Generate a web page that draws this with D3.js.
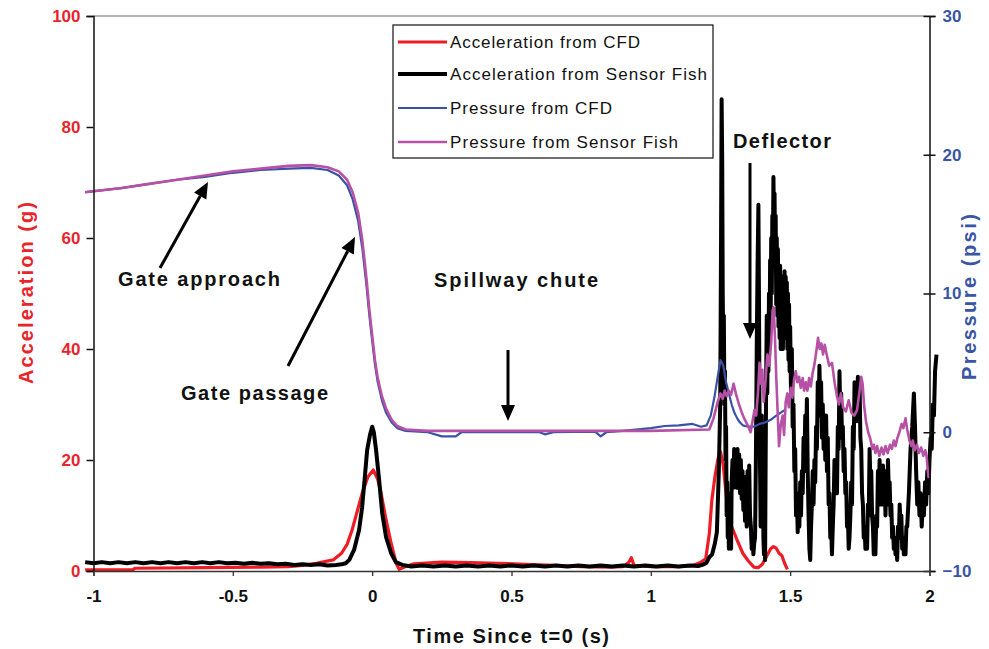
<!DOCTYPE html>
<html><head><meta charset="utf-8">
<script src="https://cdn.jsdelivr.net/npm/d3@7"></script>
<style>
body{margin:0;background:#fff}
svg{display:block}
text{font-family:Arial,"Liberation Sans",Helvetica,sans-serif}
</style>
</head><body>
<svg id="chart" width="989" height="649"></svg>
<script>
// ---------------- DATA ----------------
const xTicks = [-1, -0.5, 0, 0.5, 1, 1.5, 2];
const xTickLabels = ["-1", "-0.5", "0", "0.5", "1", "1.5", "2"];
const accTicks = [0, 20, 40, 60, 80, 100];
const presTicks = [-10, 0, 10, 20, 30];
const seriesNames = ["Acceleration from CFD", "Acceleration from Sensor Fish", "Pressure from CFD", "Pressure from Sensor Fish"];
const xTitle = "Time Since t=0 (s)";
const accTitle = "Acceleration (g)";
const presTitle = "Pressure (psi)";
const annotations = ["Gate approach", "Gate passage", "Spillway chute", "Deflector"];

// [time (s), acceleration (g)]
const accCFD = [[-1.03,0.2],[-0.86,0.2],[-0.85,0.5],[-0.6,0.6],[-0.4,0.7],[-0.3,0.8],[-0.25,1.0],[-0.2,1.4],[-0.14,2.0],[-0.11,3.2],[-0.09,4.8],[-0.072,7.4],[-0.055,10.5],[-0.036,14],[-0.015,17],[0.004,18.2],[0.02,16.5],[0.032,14],[0.05,9.2],[0.068,5],[0.086,1.4],[0.097,0.3],[0.12,0.8],[0.15,1.3],[0.25,1.6],[0.35,1.5],[0.45,1.4],[0.55,1.2],[0.65,1.0],[0.75,0.8],[0.85,0.7],[0.9,0.8],[0.92,1.5],[0.93,2.4],[0.94,1.0],[1.0,0.8],[1.1,0.8],[1.15,1.0],[1.18,1.6],[1.197,2.2],[1.21,6.8],[1.219,12.8],[1.23,17],[1.24,20],[1.25,21.5],[1.26,19],[1.27,14],[1.28,10],[1.29,8],[1.3,6.8],[1.31,5.5],[1.33,3.2],[1.35,1.8],[1.37,0.7],[1.385,0.6],[1.4,1.2],[1.415,2.6],[1.43,4.0],[1.44,4.4],[1.45,4.1],[1.46,3.2],[1.47,2.8],[1.48,1.4],[1.49,0.3]];

const accSensorFish = [[-1.03,1.6],[-1.0,1.4],[-0.97,1.6],[-0.94,1.4],[-0.91,1.6],[-0.88,1.4],[-0.85,1.6],[-0.82,1.4],[-0.79,1.6],[-0.76,1.4],[-0.73,1.6],[-0.7,1.4],[-0.67,1.6],[-0.64,1.4],[-0.61,1.6],[-0.58,1.4],[-0.55,1.6],[-0.52,1.4],[-0.49,1.5],[-0.46,1.3],[-0.43,1.5],[-0.4,1.3],[-0.37,1.4],[-0.34,1.2],[-0.31,1.3],[-0.28,1.1],[-0.25,1.2],[-0.22,1.1],[-0.19,1.2],[-0.16,1.0],[-0.13,1.1],[-0.11,1.2],[-0.095,1.4],[-0.082,2],[-0.065,3.8],[-0.047,7.4],[-0.036,11.5],[-0.025,17.7],[-0.018,21.8],[-0.008,24.5],[0,26],[0.006,25],[0.014,21.8],[0.025,16.4],[0.036,10.4],[0.05,6.1],[0.068,3.2],[0.085,1.6],[0.108,1.1],[0.14,0.8],[0.18,1.0],[0.22,0.8],[0.26,1.0],[0.3,0.8],[0.34,1.0],[0.38,0.8],[0.42,1.0],[0.46,0.8],[0.5,1.0],[0.54,0.8],[0.58,1.0],[0.62,0.8],[0.66,1.0],[0.7,0.8],[0.74,1.0],[0.78,0.8],[0.82,1.0],[0.86,0.8],[0.9,1.0],[0.94,0.8],[0.98,1.0],[1.02,0.8],[1.06,1.0],[1.1,0.8],[1.14,1.0],[1.17,0.9],[1.19,1.2],[1.2,1.5],[1.21,2.5],[1.22,3.0],[1.23,5],[1.237,7],[1.244,18],[1.249,30],[1.252,60],[1.254,85],[1.256,75],[1.258,50],[1.26,40],[1.262,46],[1.264,30],[1.266,36],[1.268,20],[1.27,26],[1.272,10],[1.274,16],[1.276,6],[1.278,14],[1.28,4],[1.282,12],[1.284,5],[1.286,14],[1.288,4],[1.29,16],[1.293,20],[1.296,15],[1.299,22],[1.302,16],[1.305,21],[1.308,15],[1.311,22],[1.314,16],[1.317,21],[1.32,14],[1.323,20],[1.326,13],[1.329,18],[1.332,11],[1.335,17],[1.338,9],[1.341,15],[1.344,8],[1.347,18],[1.35,12],[1.353,19],[1.356,10],[1.359,8],[1.362,4],[1.365,6],[1.368,3],[1.371,5],[1.374,6],[1.377,20],[1.38,40],[1.383,55],[1.386,66],[1.388,50],[1.39,30],[1.392,18],[1.394,8],[1.396,20],[1.398,28],[1.4,14],[1.402,20],[1.404,6],[1.406,3],[1.408,8],[1.41,2],[1.412,20],[1.414,35],[1.416,46],[1.418,32],[1.42,44],[1.422,36],[1.424,50],[1.426,40],[1.428,56],[1.43,46],[1.432,60],[1.434,50],[1.436,64],[1.438,58],[1.44,71],[1.442,62],[1.444,68],[1.446,55],[1.448,64],[1.45,48],[1.452,60],[1.454,46],[1.456,58],[1.458,44],[1.46,54],[1.462,42],[1.464,55],[1.466,40],[1.468,52],[1.47,42],[1.472,53],[1.474,40],[1.476,50],[1.478,42],[1.48,54],[1.482,42],[1.484,53],[1.486,44],[1.488,52],[1.49,40],[1.492,50],[1.494,38],[1.496,48],[1.498,36],[1.5,44],[1.503,32],[1.506,40],[1.509,26],[1.512,30],[1.515,18],[1.518,22],[1.521,10],[1.524,14],[1.527,7],[1.53,12],[1.533,8],[1.536,16],[1.539,10],[1.542,18],[1.545,14],[1.548,24],[1.551,18],[1.554,28],[1.557,22],[1.56,31],[1.563,18],[1.566,10],[1.569,4],[1.572,2],[1.575,8],[1.578,12],[1.581,18],[1.584,12],[1.587,20],[1.59,16],[1.593,26],[1.596,22],[1.599,34],[1.602,28],[1.605,37],[1.608,30],[1.611,34],[1.614,24],[1.617,30],[1.62,22],[1.623,28],[1.626,20],[1.629,28],[1.632,18],[1.635,24],[1.638,12],[1.641,14],[1.644,6],[1.647,8],[1.65,3],[1.653,8],[1.656,12],[1.659,20],[1.662,14],[1.665,18],[1.668,14],[1.671,26],[1.674,22],[1.677,36],[1.68,28],[1.683,32],[1.686,24],[1.689,26],[1.692,18],[1.695,22],[1.698,14],[1.701,16],[1.704,8],[1.707,10],[1.71,4],[1.713,6],[1.716,10],[1.719,16],[1.722,12],[1.725,26],[1.728,22],[1.731,34],[1.734,28],[1.737,33],[1.74,27],[1.743,35],[1.746,28],[1.749,34],[1.752,24],[1.755,22],[1.758,14],[1.761,12],[1.764,6],[1.767,8],[1.77,4],[1.773,6],[1.776,4],[1.779,12],[1.782,10],[1.785,22],[1.788,16],[1.791,18],[1.794,10],[1.797,8],[1.8,3],[1.803,6],[1.806,3],[1.809,10],[1.812,8],[1.815,18],[1.818,14],[1.821,20],[1.824,12],[1.827,16],[1.83,12],[1.833,19],[1.836,13],[1.839,18],[1.842,10],[1.845,16],[1.848,12],[1.851,20],[1.854,14],[1.857,16],[1.86,10],[1.863,12],[1.866,6],[1.869,8],[1.872,4],[1.875,6],[1.878,3],[1.881,5],[1.884,2],[1.887,8],[1.89,6],[1.893,12],[1.896,8],[1.899,10],[1.902,4],[1.905,6],[1.908,3],[1.911,5],[1.914,3],[1.917,8],[1.92,8],[1.926,14],[1.932,22],[1.938,26],[1.944,32],[1.948,26],[1.952,18],[1.956,12],[1.96,16],[1.964,10],[1.968,14],[1.972,8],[1.976,12],[1.98,10],[1.984,16],[1.988,12],[1.992,18],[1.996,14],[2.0,20],[2.004,24],[2.008,22],[2.012,30],[2.016,28],[2.02,36],[2.025,39]];

// [time (s), pressure (psi)]
const presCFD = [[-1.03,17.3],[-0.9,17.6],[-0.8,17.9],[-0.7,18.2],[-0.6,18.4],[-0.5,18.7],[-0.4,18.9],[-0.3,19.0],[-0.22,19.05],[-0.16,18.9],[-0.12,18.5],[-0.09,17.8],[-0.07,16.8],[-0.05,15.2],[-0.035,13.2],[-0.02,10.5],[-0.01,8.4],[0,6.6],[0.01,4.9],[0.02,3.6],[0.035,2.3],[0.05,1.4],[0.07,0.7],[0.09,0.3],[0.12,0.1],[0.2,0.0],[0.25,-0.3],[0.3,-0.3],[0.32,0.0],[0.5,0.0],[0.6,0.0],[0.62,-0.15],[0.65,0.0],[0.8,0.05],[0.82,-0.3],[0.84,0.0],[0.9,0.1],[1.0,0.3],[1.05,0.45],[1.1,0.5],[1.15,0.6],[1.18,0.4],[1.2,0.5],[1.215,1.2],[1.228,2.5],[1.24,4.0],[1.25,5.2],[1.26,4.8],[1.27,3.6],[1.28,2.8],[1.29,2.0],[1.3,1.4],[1.31,1.0],[1.32,0.7],[1.33,0.5],[1.35,0.4],[1.37,0.4],[1.39,0.6],[1.41,0.7],[1.43,0.9],[1.45,1.2],[1.465,1.4],[1.48,1.6],[1.485,1.6]];

const presSensorFish = [[-1.03,17.3],[-0.9,17.6],[-0.8,17.9],[-0.7,18.2],[-0.6,18.5],[-0.5,18.8],[-0.4,19.0],[-0.3,19.2],[-0.22,19.25],[-0.16,19.1],[-0.12,18.8],[-0.09,18.2],[-0.07,17.3],[-0.05,15.8],[-0.035,13.8],[-0.02,11.0],[-0.01,8.8],[0,7.0],[0.01,5.2],[0.02,3.9],[0.035,2.6],[0.05,1.7],[0.07,0.9],[0.09,0.45],[0.12,0.2],[0.2,0.1],[0.6,0.1],[1.0,0.1],[1.21,0.2],[1.225,1.0],[1.24,2.2],[1.25,2.8],[1.258,2.4],[1.265,3.0],[1.272,2.6],[1.28,3.0],[1.288,2.7],[1.297,3.5],[1.305,2.8],[1.315,2.1],[1.325,1.5],[1.335,1.0],[1.345,0.6],[1.352,0.3],[1.358,0.0],[1.365,0.8],[1.372,1.6],[1.378,1.2],[1.385,3.0],[1.39,5.0],[1.395,3.5],[1.4,4.5],[1.405,2.2],[1.412,3.8],[1.418,5.6],[1.425,4.8],[1.432,6.5],[1.437,8.8],[1.441,9.0],[1.446,6.5],[1.45,4.0],[1.455,1.5],[1.46,-1.0],[1.466,0.5],[1.473,1.2],[1.478,-0.2],[1.484,2.2],[1.49,2.8],[1.495,1.8],[1.502,3.2],[1.508,2.5],[1.514,3.8],[1.52,4.4],[1.526,3.6],[1.532,4.0],[1.538,3.2],[1.545,3.9],[1.55,3.0],[1.556,3.6],[1.562,3.0],[1.568,3.9],[1.574,3.3],[1.58,4.2],[1.588,5.0],[1.595,6.0],[1.6,6.8],[1.606,6.0],[1.612,6.4],[1.618,5.6],[1.624,6.3],[1.63,5.7],[1.64,4.8],[1.65,5.0],[1.66,3.5],[1.668,2.6],[1.675,2.0],[1.682,2.8],[1.69,1.8],[1.7,1.5],[1.71,2.3],[1.72,1.4],[1.73,1.2],[1.74,1.6],[1.748,2.8],[1.755,4.0],[1.76,3.5],[1.765,2.0],[1.772,0.8],[1.78,0.0],[1.788,-0.5],[1.795,-1.2],[1.8,-0.9],[1.806,-1.5],[1.812,-1.0],[1.82,-1.7],[1.828,-1.1],[1.835,-1.6],[1.842,-1.0],[1.85,-1.5],[1.858,-0.9],[1.865,-1.2],[1.872,-0.6],[1.878,-1.0],[1.885,-0.4],[1.892,0.0],[1.9,0.6],[1.906,0.3],[1.914,1.0],[1.92,0.2],[1.928,-0.6],[1.935,-1.0],[1.94,-0.6],[1.947,-1.3],[1.955,-0.9],[1.962,-1.5],[1.97,-1.1],[1.978,-1.7],[1.985,-1.3],[1.99,-1.8],[1.994,-2.8],[1.997,-3.3]];

// ---------------- CHART ----------------
const M = {left: 93.5, right: 929.5, top: 16, bottom: 571};
const colors = {accCFD: "#ee1c25", accSF: "#000000", presCFD: "#3a52a6", presSF: "#b651a6", accText: "#e8252c", presText: "#3a55a4"};

const svg = d3.select("#chart");
const x = d3.scaleLinear().domain([-1, 2]).range([M.left, M.right]);
const yA = d3.scaleLinear().domain([0, 100]).range([M.bottom, M.top]);
const yP = d3.scaleLinear().domain([-10, 30]).range([M.bottom, M.top]);

// top border
svg.append("line").attr("x1", M.left).attr("x2", M.right).attr("y1", M.top).attr("y2", M.top)
  .attr("stroke", "#9a9a9a").attr("stroke-width", 1.5);

// series
const lineA = d3.line().x(d => x(d[0])).y(d => yA(d[1]));
const lineP = d3.line().x(d => x(d[0])).y(d => yP(d[1]));
svg.append("path").datum(accCFD).attr("d", lineA).attr("fill", "none").attr("stroke", colors.accCFD).attr("stroke-width", 3.2).attr("stroke-linejoin", "round");
svg.append("path").datum(accSensorFish).attr("d", lineA).attr("fill", "none").attr("stroke", colors.accSF).attr("stroke-width", 4).attr("stroke-linejoin", "round");
svg.append("path").datum(presCFD).attr("d", lineP).attr("fill", "none").attr("stroke", colors.presCFD).attr("stroke-width", 2.2).attr("stroke-linejoin", "round");
svg.append("path").datum(presSensorFish).attr("d", lineP).attr("fill", "none").attr("stroke", colors.presSF).attr("stroke-width", 2.6).attr("stroke-linejoin", "round");

// left axis
const gL = svg.append("g").attr("transform", `translate(${M.left},0)`)
  .call(d3.axisLeft(yA).tickValues(accTicks).tickSize(7).tickPadding(6));
gL.select(".domain").attr("stroke", "#111").attr("stroke-width", 1.5);
gL.selectAll(".tick line").attr("stroke", "#111").attr("stroke-width", 1.5);
gL.selectAll(".tick text").attr("fill", colors.accText).attr("font-size", 17).attr("font-weight", "bold").attr("font-family", "Arial, Liberation Sans, sans-serif");

// right axis
const gR = svg.append("g").attr("transform", `translate(${M.right},0)`)
  .call(d3.axisRight(yP).tickValues(presTicks).tickSize(6).tickPadding(7));
gR.select(".domain").attr("stroke", "#111").attr("stroke-width", 1.5);
gR.selectAll(".tick line").attr("stroke", "#111").attr("stroke-width", 1.5).attr("x1", -6);
gR.selectAll(".tick text").attr("fill", colors.presText).attr("font-size", 17).attr("font-weight", "bold").attr("font-family", "Arial, Liberation Sans, sans-serif");

// bottom axis
const gB = svg.append("g").attr("transform", `translate(0,${M.bottom})`)
  .call(d3.axisBottom(x).tickValues(xTicks).tickFormat((d, i) => xTickLabels[i]).tickSize(5).tickPadding(14));
gB.select(".domain").attr("stroke", "#333").attr("stroke-width", 1.3);
gB.selectAll(".tick line").attr("stroke", "#333").attr("stroke-width", 1.3);
gB.selectAll(".tick text").attr("fill", "#111").attr("font-size", 17).attr("font-weight", "bold").attr("font-family", "Arial, Liberation Sans, sans-serif");

// axis titles
svg.append("text").attr("x", 511).attr("y", 643).attr("text-anchor", "middle")
  .attr("font-size", 20).attr("font-weight", "bold").attr("fill", "#111")
  .attr("textLength", 196).attr("lengthAdjust", "spacing").text(xTitle);
svg.append("text").attr("transform", "translate(33,293) rotate(-90)").attr("text-anchor", "middle")
  .attr("font-size", 20).attr("font-weight", "bold").attr("fill", colors.accText)
  .attr("textLength", 182).attr("lengthAdjust", "spacing").text(accTitle);
svg.append("text").attr("transform", "translate(976,297) rotate(-90)").attr("text-anchor", "middle")
  .attr("font-size", 20).attr("font-weight", "bold").attr("fill", colors.presText)
  .attr("textLength", 166).attr("lengthAdjust", "spacing").text(presTitle);

// annotations
const annPos = [
  {t: annotations[0], x: 118, y: 286, w: 162},
  {t: annotations[1], x: 181, y: 400, w: 147},
  {t: annotations[2], x: 434, y: 287, w: 164},
  {t: annotations[3], x: 733, y: 148, w: 98}
];
annPos.forEach(a => {
  svg.append("text").attr("x", a.x).attr("y", a.y).attr("font-size", 20).attr("font-weight", "bold")
    .attr("fill", "#111").attr("textLength", a.w).attr("lengthAdjust", "spacing").text(a.t);
});
const arrows = [
  [160, 268, 208, 182],
  [288, 366, 355, 237],
  [508, 350, 508, 421],
  [750, 163, 750, 339]
];
arrows.forEach(([x1, y1, x2, y2]) => {
  const ang = Math.atan2(y2 - y1, x2 - x1), L = 16, Wd = 7;
  const bx = x2 - L * Math.cos(ang), by = y2 - L * Math.sin(ang);
  svg.append("line").attr("x1", x1).attr("y1", y1).attr("x2", bx).attr("y2", by)
    .attr("stroke", "#000").attr("stroke-width", 3);
  const px = -Math.sin(ang), py = Math.cos(ang);
  svg.append("polygon").attr("points", [[x2, y2], [bx + px * Wd, by + py * Wd], [bx - px * Wd, by - py * Wd]].map(p => p.join(",")).join(" "))
    .attr("fill", "#000");
});

// legend
const leg = svg.append("g");
leg.append("rect").attr("x", 393).attr("y", 25).attr("width", 320).attr("height", 133)
  .attr("fill", "#fff").attr("stroke", "#111").attr("stroke-width", 1.2);
const legRows = [
  {name: seriesNames[0], c: colors.accCFD, w: 3.2, y: 42, tl: 190},
  {name: seriesNames[1], c: colors.accSF, w: 4, y: 74, tl: 257},
  {name: seriesNames[2], c: colors.presCFD, w: 2.2, y: 108, tl: 162},
  {name: seriesNames[3], c: colors.presSF, w: 2.6, y: 142, tl: 228}
];
legRows.forEach(r => {
  leg.append("line").attr("x1", 398).attr("x2", 447).attr("y1", r.y).attr("y2", r.y)
    .attr("stroke", r.c).attr("stroke-width", r.w);
  leg.append("text").attr("x", 450).attr("y", r.y + 6).attr("font-size", 17).attr("fill", "#111")
    .attr("textLength", r.tl).attr("lengthAdjust", "spacing").text(r.name);
});
</script>
</body></html>
